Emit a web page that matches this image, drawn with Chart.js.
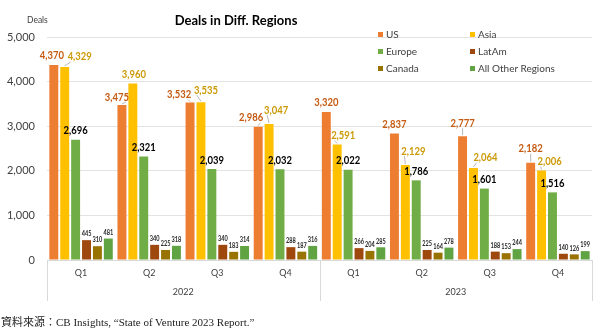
<!DOCTYPE html>
<html>
<head>
<meta charset="utf-8">
<script src="https://cdn.jsdelivr.net/npm/chart.js@4.4.1/dist/chart.umd.min.js"></script>
<style>
  html, body { margin: 0; padding: 0; background: #fff; }
  #wrap { position: relative; width: 600px; height: 335px; font-family: Lato, "Noto Sans", sans-serif; }
  #chart { position: absolute; left: 0; top: 0; }
  .title { position: absolute; left: 0; width: 472px; top: 12px; text-align: center; font-weight: bold; font-size: 13px; color: #000; }
  .unit { position: absolute; left: 27px; top: 15px; font-size: 8.5px; color: #404040; }
  .legend { position: absolute; left: 378px; top: 28px; width: 200px; }
  .legend .item { position: absolute; font-size: 10px; color: #404040; white-space: nowrap; }
  .legend .sw { display: inline-block; width: 5px; height: 5px; margin-right: 3px; vertical-align: 1px; }
  .source { position: absolute; left: 1px; top: 313px; font-family: "Liberation Serif", "Noto Sans CJK TC", serif; font-size: 11px; color: #222; }
</style>
</head>
<body>
<div id="wrap">
  <canvas id="chart" width="600" height="335"></canvas>
  <div class="title">Deals in Diff. Regions</div>
  <div class="unit">Deals</div>
  <div class="legend" id="legend"></div>
  <div class="source">資料來源：CB Insights, “State of Venture 2023 Report.”</div>
</div>
<script>
// Trimestres e anos
const quarters = ["Q1", "Q2", "Q3", "Q4", "Q1", "Q2", "Q3", "Q4"];
const years = ["2022", "2023"];
const yTicks = [0, 1000, 2000, 3000, 4000, 5000];

// Negócios por região
const usDeals = [4370, 3475, 3532, 2986, 3320, 2837, 2777, 2182];
const asiaDeals = [4329, 3960, 3535, 3047, 2591, 2129, 2064, 2006];
const europeDeals = [2696, 2321, 2039, 2032, 2022, 1786, 1601, 1516];
const latamDeals = [445, 340, 340, 288, 266, 225, 188, 140];
const canadaDeals = [310, 225, 183, 187, 204, 164, 153, 126];
const otherDeals = [481, 318, 314, 316, 285, 278, 244, 199];

// Deslocamento dos rótulos de US e Asia (px)
const usLabelDx = [-2, -5, -11, -7, 0, 0, 0, 0];
const usLabelDy = [10, 8, 8, 9, 9, 9, 13, 14];
const asiaLabelDx = [15, 1, 5, 7, 6, 8, 12, 8];
const asiaLabelDy = [10, 9, 12, 14, 9, 14, 10, 9];

const series = [
  { label: "US", data: usDeals, color: "#ED7D31", text: "#C55A11", big: true, dx: usLabelDx, dy: usLabelDy },
  { label: "Asia", data: asiaDeals, color: "#FFC000", text: "#CC9A06", big: true, dx: asiaLabelDx, dy: asiaLabelDy },
  { label: "Europe", data: europeDeals, color: "#70AD47", text: "#000", big: true },
  { label: "LatAm", data: latamDeals, color: "#9E480E", text: "#262626" },
  { label: "Canada", data: canadaDeals, color: "#997300", text: "#262626" },
  { label: "All Other Regions", data: otherDeals, color: "#5FA343", text: "#262626" },
];

// Legenda em duas colunas
const legend = document.getElementById("legend");
series.forEach((s, i) => {
  const item = document.createElement("div");
  item.className = "item";
  item.style.left = (i % 2) * 92 + "px";
  item.style.top = Math.floor(i / 2) * 17 + "px";
  item.innerHTML = '<span class="sw" style="background:' + s.color + '"></span>' + s.label;
  legend.appendChild(item);
});

const fmt = (v) => v.toLocaleString("en-US");

// Texto um pouco condensado, parecido com Calibri
function narrowText(ctx, text, x, y, squeeze) {
  ctx.save();
  ctx.translate(x, y);
  ctx.scale(squeeze, 1);
  ctx.fillText(text, 0, 0);
  ctx.restore();
}

// Rótulos de valor sobre as barras
const valueLabels = {
  id: "valueLabels",
  afterDatasetsDraw(chart) {
    const ctx = chart.ctx;
    ctx.save();
    ctx.textAlign = "center";
    ctx.textBaseline = "middle";
    series.forEach((s, di) => {
      const meta = chart.getDatasetMeta(di);
      meta.data.forEach((bar, i) => {
        const dx = s.dx ? s.dx[i] : 0;
        const dy = s.dy ? s.dy[i] : (s.big ? 9 : 6);
        const x = bar.x + dx;
        const y = bar.y - dy;
        if (s.dx && (Math.abs(dx) >= 5 || dy >= 12)) {
          ctx.strokeStyle = "#a6a6a6";
          ctx.lineWidth = 0.8;
          ctx.beginPath();
          ctx.moveTo(bar.x, bar.y - 1);
          ctx.lineTo(x - (dx > 0 ? 9 : dx < 0 ? -9 : 0), y + 5);
          ctx.stroke();
        }
        ctx.fillStyle = s.text;
        ctx.font = s.big ? "bold 11px Lato" : "bold 7px Lato";
        narrowText(ctx, fmt(s.data[i]), x, y, s.big ? 0.86 : 0.8);
      });
    });
    ctx.restore();
  },
};

// Anos e divisórias do eixo de categorias
const yearAxis = {
  id: "yearAxis",
  afterDraw(chart) {
    const ctx = chart.ctx;
    const area = chart.chartArea;
    const step = (area.right - area.left) / quarters.length;
    ctx.save();
    ctx.strokeStyle = "#d9d9d9";
    ctx.lineWidth = 1;
    [0, 4, 8].forEach((k) => {
      const px = Math.round(area.left + k * step) + 0.5;
      ctx.beginPath();
      ctx.moveTo(px, area.bottom);
      ctx.lineTo(px, area.bottom + 41);
      ctx.stroke();
    });
    ctx.fillStyle = "#404040";
    ctx.font = "9px Lato";
    ctx.textAlign = "center";
    ctx.textBaseline = "middle";
    years.forEach((yr, j) => {
      ctx.fillText(yr, area.left + (j * 4 + 2) * step, area.bottom + 32);
    });
    ctx.restore();
  },
};

new Chart(document.getElementById("chart"), {
  type: "bar",
  data: {
    labels: quarters,
    datasets: series.map((s) => ({
      label: s.label,
      data: s.data,
      backgroundColor: s.color,
      categoryPercentage: 0.96,
      barPercentage: 0.82,
    })),
  },
  options: {
    responsive: false,
    animation: false,
    layout: { padding: { top: 37, right: 8, left: 0, bottom: 0 } },
    plugins: { legend: { display: false }, title: { display: false }, tooltip: { enabled: false } },
    scales: {
      x: {
        grid: { display: false },
        border: { color: "#d9d9d9" },
        ticks: { color: "#404040", font: { family: "Lato", size: 9 }, padding: 0, maxRotation: 0 },
        afterFit: (s) => { s.height = 75; },
      },
      y: {
        min: 0,
        max: 5000,
        afterBuildTicks: (s) => { s.ticks = yTicks.map((v) => ({ value: v })); },
        grid: { color: "#e3e3e3", drawTicks: false },
        border: { display: false },
        ticks: {
          color: "#404040",
          font: { family: "Lato", size: 11 },
          padding: 12,
          callback: (v) => fmt(v),
        },
        afterFit: (s) => { s.width = 47; },
      },
    },
  },
  plugins: [valueLabels, yearAxis],
});
</script>
</body>
</html>
